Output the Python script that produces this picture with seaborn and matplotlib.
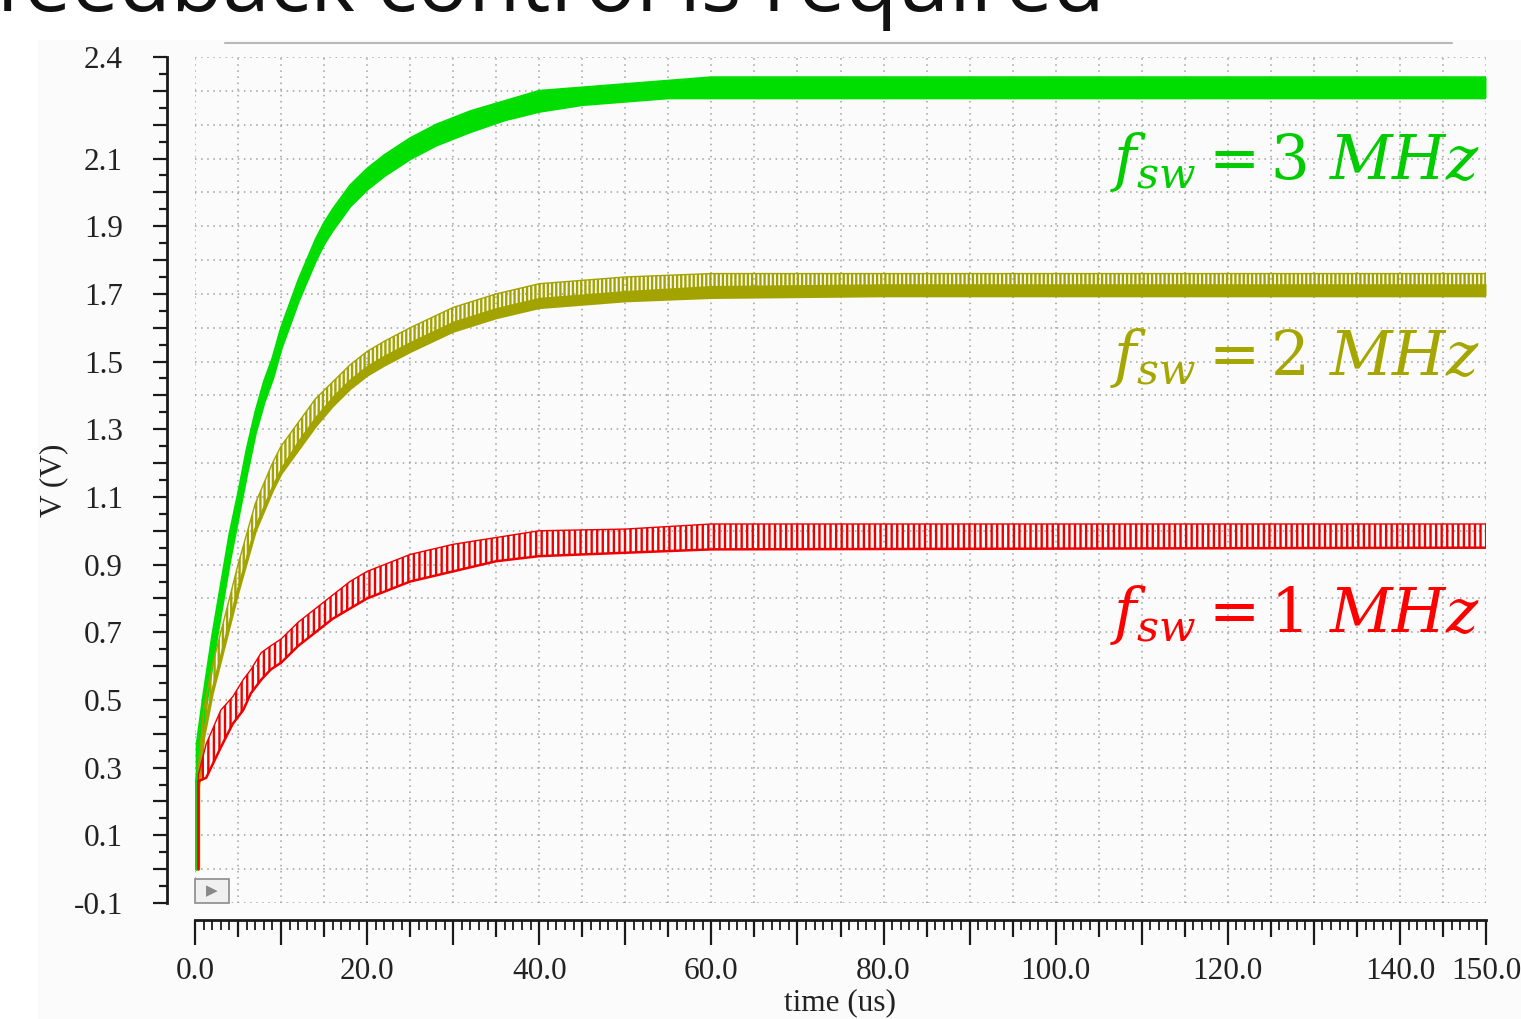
import numpy as np
import matplotlib.pyplot as plt
import seaborn as sns
from matplotlib.ticker import FixedLocator, MultipleLocator, FuncFormatter
from matplotlib.patches import Rectangle
from matplotlib.lines import Line2D

# ripple envelopes (time in us, output in V)
t_green = [0.2, 0.2, 1, 2, 3, 4, 5, 6, 7, 8, 9, 10, 11, 12, 13, 14, 15, 16,
           18, 20, 22, 25, 28, 32, 36, 40, 45, 50, 55, 60, 150]
lo_green = [0.0, 0.26, 0.44, 0.61, 0.76, 0.91, 1.04, 1.17, 1.29, 1.38, 1.45, 1.54, 1.61, 1.68, 1.74, 1.80, 1.85, 1.89,
            1.96, 2.01, 2.05, 2.10, 2.14, 2.18, 2.215, 2.24, 2.26, 2.27, 2.28, 2.28, 2.28]
hi_green = [0.0, 0.37, 0.52, 0.69, 0.84, 0.99, 1.11, 1.24, 1.35, 1.44, 1.51, 1.60, 1.67, 1.74, 1.80, 1.86, 1.91, 1.95,
            2.02, 2.07, 2.11, 2.16, 2.20, 2.24, 2.27, 2.30, 2.31, 2.32, 2.33, 2.34, 2.34]

t_olive = [0.4, 0.4, 1, 2, 3, 4, 5, 6, 7, 8, 9, 10, 12, 14, 16, 18, 20, 22, 25,
           30, 35, 40, 45, 50, 60, 80, 150]
lo_olive = [0.0, 0.24, 0.39, 0.52, 0.62, 0.72, 0.82, 0.91, 1.00, 1.06, 1.12, 1.17, 1.24, 1.31, 1.37, 1.42, 1.46, 1.49, 1.53,
            1.59, 1.63, 1.66, 1.67, 1.68, 1.69, 1.695, 1.695]
core_olive = [0.0, 0.26, 0.41, 0.54, 0.64, 0.74, 0.84, 0.93, 1.02, 1.08, 1.14, 1.19, 1.27, 1.34, 1.40, 1.45, 1.49, 1.52, 1.56,
              1.62, 1.66, 1.69, 1.70, 1.71, 1.725, 1.73, 1.73]
hi_olive = [0.0, 0.30, 0.47, 0.60, 0.70, 0.80, 0.90, 0.99, 1.08, 1.14, 1.20, 1.25, 1.32, 1.39, 1.44, 1.49, 1.53, 1.56, 1.60,
            1.66, 1.70, 1.73, 1.74, 1.75, 1.76, 1.76, 1.76]

t_red = [0.4, 0.4, 1.3, 3, 4.4, 5.6, 6.5, 7.7, 8.8, 10, 12, 14, 16, 18, 20,
         25, 30, 35, 40, 50, 60, 150]
lo_red = [0.0, 0.26, 0.27, 0.36, 0.43, 0.47, 0.52, 0.56, 0.59, 0.61, 0.66, 0.70, 0.74, 0.77, 0.80,
          0.85, 0.88, 0.91, 0.925, 0.935, 0.945, 0.95]
hi_red = [0.0, 0.28, 0.37, 0.47, 0.51, 0.56, 0.59, 0.64, 0.66, 0.68, 0.73, 0.77, 0.81, 0.85, 0.88,
          0.93, 0.96, 0.98, 1.00, 1.005, 1.02, 1.02]

labels = [r'$f_{sw} = 3\ MHz$', r'$f_{sw} = 2\ MHz$', r'$f_{sw} = 1\ MHz$']
label_y = [2.04, 1.46, 0.70]

y_labels = [-0.1, 0.1, 0.3, 0.5, 0.7, 0.9, 1.1, 1.3, 1.5, 1.7, 1.9, 2.1, 2.4]
x_labels = [0, 20, 40, 60, 80, 100, 120, 140, 150]

GREEN = '#00dd00'
OLIVE = '#a3a300'
RED = '#ee0000'
TEXT_COLORS = ['#00cc00', '#a6a600', '#ff0000']

sns.set_theme(style='white')
plt.rcParams['hatch.linewidth'] = 1.7
plt.rcParams['mathtext.fontset'] = 'dejavuserif'
serif = 'Liberation Serif'

fig = plt.figure(figsize=(15.21, 10.19), dpi=100)
fig.patches.append(Rectangle((38 / 1521, 0), 1, 1 - 40 / 1019, transform=fig.transFigure,
                             facecolor='#fbfbfb', edgecolor='none', zorder=-5))
ax = fig.add_axes([195 / 1521, 1 - 903 / 1019, 1291 / 1521, 846 / 1019])
ax.set_facecolor('none')

# 3 MHz: ripple too fine to resolve, solid band
ax.fill_between(t_green, lo_green, hi_green, color=GREEN, lw=0, zorder=3)
sns.lineplot(x=t_green, y=lo_green, color=GREEN, lw=2.5, sort=False, estimator=None, ax=ax, zorder=3)
sns.lineplot(x=t_green, y=hi_green, color=GREEN, lw=1.5, sort=False, estimator=None, ax=ax, zorder=3)

# 2 MHz: solid core with ripple spikes on top
ax.fill_between(t_olive, lo_olive, hi_olive, facecolor='none', edgecolor=OLIVE, hatch='||||', lw=0, zorder=3)
ax.fill_between(t_olive, lo_olive, core_olive, color=OLIVE, lw=0, zorder=3)
sns.lineplot(x=t_olive, y=lo_olive, color=OLIVE, lw=2.5, sort=False, estimator=None, ax=ax, zorder=3)
sns.lineplot(x=t_olive, y=hi_olive, color=OLIVE, lw=1, sort=False, estimator=None, ax=ax, zorder=3)

# 1 MHz: visible sawtooth
ax.fill_between(t_red, lo_red, hi_red, facecolor='none', edgecolor=RED, hatch='|||', lw=0, zorder=3)
sns.lineplot(x=t_red, y=lo_red, color=RED, lw=1.8, sort=False, estimator=None, ax=ax, zorder=3)
sns.lineplot(x=t_red, y=hi_red, color=RED, lw=1.0, sort=False, estimator=None, ax=ax, zorder=3)

for txt, yy, c in zip(labels, label_y, TEXT_COLORS):
    ax.text(149.2, yy, txt, color=c, fontsize=44, ha='right', va='baseline', zorder=4)

ax.set_xlim(0, 150)
ax.set_ylim(-0.1, 2.4)
ax.xaxis.set_major_locator(MultipleLocator(5))
ax.xaxis.set_minor_locator(MultipleLocator(1))
ax.yaxis.set_major_locator(FixedLocator(np.round(np.arange(-0.1, 2.45, 0.1), 2)))
ax.yaxis.set_minor_locator(FixedLocator(np.round(np.arange(-0.05, 2.4, 0.1), 3)))
ax.xaxis.set_major_formatter(FuncFormatter(lambda v, p: f'{v:.1f}' if round(v) in x_labels else ''))
ax.yaxis.set_major_formatter(FuncFormatter(lambda v, p: f'{v:.1f}' if round(v, 2) in y_labels else ''))

ax.grid(which='major', color='#a0a0a0', linestyle=(0, (1, 3)), linewidth=1.1)
ax.set_axisbelow(True)

sns.despine(ax=ax, offset={'left': 20, 'bottom': 12})
for side in ['left', 'bottom']:
    ax.spines[side].set_linewidth(2)
    ax.spines[side].set_color('#1a1a1a')

ax.tick_params(axis='both', which='both', direction='out', color='#1a1a1a', left=True, bottom=True)
ax.tick_params(axis='y', which='major', length=10, width=1.6, pad=22, labelsize=22.5, labelcolor='#222222')
ax.tick_params(axis='y', which='minor', length=5.5, width=1.6)
ax.tick_params(axis='x', which='major', length=18, width=1.6, pad=9, labelsize=22.5, labelcolor='#222222')
ax.tick_params(axis='x', which='minor', length=7, width=1.3)
for lab in ax.get_xticklabels() + ax.get_yticklabels():
    lab.set_family(serif)

# 5 us marks are shorter than the 10 us ones
for tick, loc in zip(ax.xaxis.get_major_ticks(), ax.xaxis.get_majorticklocs()):
    if round(loc) % 10:
        tick.tick1line.set_markersize(12)

ax.set_xlabel('time (us)', fontsize=22.5, family=serif, color='#222222')
ax.set_ylabel('V (V)', fontsize=22.5, family=serif, color='#222222')
ax.xaxis.set_label_coords(0.5, -0.1005)
ax.yaxis.set_label_coords(-0.098, 0.5)

# waveform viewer marker box
ax.add_patch(Rectangle((0.0, 0.0), 0.026, 0.028, transform=ax.transAxes, facecolor='#f0f0f0',
                       edgecolor='#8c8c8c', lw=1.2, zorder=5, clip_on=False))
ax.text(0.013, 0.014, '\u25b6', transform=ax.transAxes, ha='center', va='center',
        fontsize=11, color='#888888', family='DejaVu Sans', zorder=6)

# slide residue above the screenshot
fig.text(-0.003, 1 - 11 / 1019, 'feedback control is required', fontsize=61, family='Open Sans',
         color='#111111', ha='left', va='baseline')
fig.add_artist(Line2D([225 / 1521, 1452 / 1521], [1 - 43 / 1019] * 2, color='#b8b8b8', lw=1.5))

fig.savefig('out.png', dpi=100)
